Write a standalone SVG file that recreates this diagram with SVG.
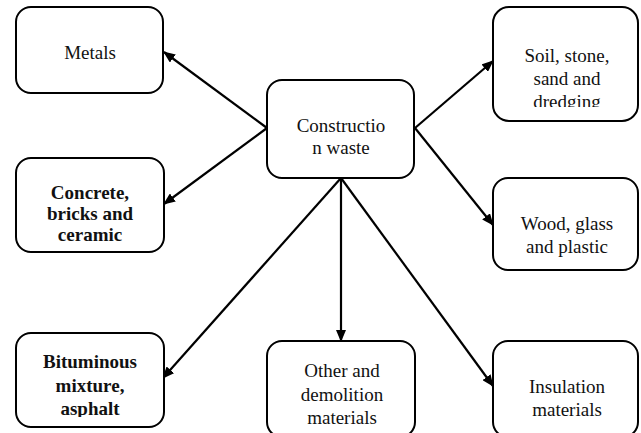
<svg xmlns="http://www.w3.org/2000/svg" width="641" height="433" viewBox="0 0 641 433">
<style>
.box{fill:#fff;stroke:#000;stroke-width:2}
.t{font-family:'Liberation Serif','DejaVu Serif',serif;font-size:19px;fill:#111;text-anchor:middle}
.b{font-weight:bold}
.c{stroke:#000;stroke-width:2.2;fill:none;marker-end:url(#ah)}
</style>
<defs>
<marker id="ah" markerWidth="12" markerHeight="10" refX="11" refY="5" orient="auto" markerUnits="userSpaceOnUse">
<path d="M0,0 L12,5 L0,10 Z" fill="#000"/>
</marker>
<clipPath id="cSoil"><rect x="493" y="7" width="145" height="100"/></clipPath>
<clipPath id="cBit"><rect x="16" y="333" width="148" height="84"/></clipPath>
<clipPath id="cOth"><rect x="267" y="341" width="148" height="83"/></clipPath>
</defs>
<rect width="641" height="433" fill="#fff"/>
<g id="connectors">
<line class="c" x1="267" y1="128" x2="164" y2="52"/>
<line class="c" x1="267" y1="128" x2="164" y2="204"/>
<line class="c" x1="415" y1="128" x2="493" y2="61"/>
<line class="c" x1="415" y1="128" x2="493" y2="225"/>
<line class="c" x1="341" y1="178" x2="163" y2="378"/>
<line class="c" x1="341" y1="178" x2="341" y2="341"/>
<line class="c" x1="341" y1="178" x2="493" y2="386"/>
</g>
<g id="metals">
<rect class="box" x="16" y="7" width="147" height="86" rx="15"/>
<text class="t" font-family="Liberation Serif, serif" x="90" y="59">Metals</text>
</g>
<g id="concrete">
<rect class="box" x="16" y="158" width="148" height="94" rx="15"/>
<text class="t b" x="90" y="199">Concrete,</text>
<text class="t b" x="90" y="220">bricks and</text>
<text class="t b" x="90" y="241">ceramic</text>
</g>
<g id="bituminous">
<rect class="box" x="16" y="333" width="148" height="94" rx="15"/>
<g clip-path="url(#cBit)">
<text class="t b" x="90" y="368">Bituminous</text>
<text class="t b" x="90" y="392">mixture,</text>
<text class="t b" x="90" y="415">asphalt</text>
</g>
</g>
<g id="construction">
<rect class="box" x="267" y="80" width="147" height="98" rx="15"/>
<text class="t" x="341" y="132">Constructio</text>
<text class="t" x="341" y="154">n waste</text>
</g>
<g id="soil">
<rect class="box" x="493" y="7" width="145" height="114" rx="16"/>
<g clip-path="url(#cSoil)">
<text class="t" x="567" y="62">Soil, stone,</text>
<text class="t" x="567" y="85">sand and</text>
<text class="t" x="567" y="108">dredging</text>
</g>
</g>
<g id="wood">
<rect class="box" x="493" y="178" width="145" height="92" rx="15"/>
<text class="t" x="567" y="230">Wood, glass</text>
<text class="t" x="567" y="253">and plastic</text>
</g>
<g id="other">
<rect class="box" x="267" y="341" width="148" height="96" rx="15"/>
<g clip-path="url(#cOth)">
<text class="t" x="342" y="377">Other and</text>
<text class="t" x="342" y="401">demolition</text>
<text class="t" x="342" y="424">materials</text>
</g>
</g>
<g id="insulation">
<rect class="box" x="493" y="341" width="145" height="96" rx="15"/>
<text class="t" x="567" y="393">Insulation</text>
<text class="t" x="567" y="416">materials</text>
</g>
</svg>
